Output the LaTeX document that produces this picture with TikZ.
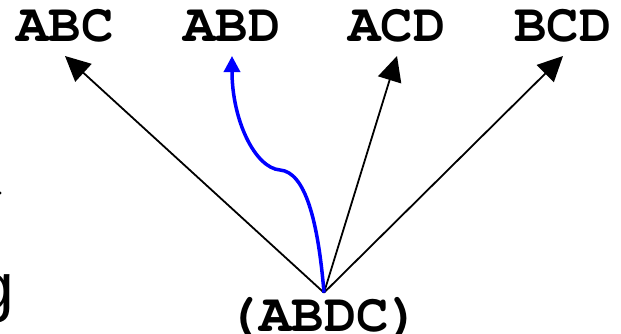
\documentclass[tikz,border=0pt]{standalone}
\usepackage{fontspec}
\newfontfamily\gfont{Liberation Sans}
\newfontfamily\cour{TeX Gyre Cursor}
\usetikzlibrary{arrows.meta}
\begin{document}
\begin{tikzpicture}[x=1pt,y=-1pt,
  lbl/.style={font=\cour\bfseries\fontsize{54}{60}\selectfont, inner sep=0pt, text depth=14pt, anchor=south},
  blk/.style={line width=1.8pt, -{Triangle[length=25pt,width=24pt]}},
  blu/.style={draw=blue, line width=3.5pt, -{Triangle[length=16pt,width=16pt]}}]
\useasboundingbox (0,0) rectangle (621,333);
\clip (0,0) rectangle (621,333);
\node[lbl] (abc) at (65,56) {ABC};
\node[lbl] (abd) at (232,56) {ABD};
\node[lbl] (acd) at (397,56) {ACD};
\node[lbl] (bcd) at (563,56) {BCD};
\node[font=\cour\bfseries\fontsize{54}{60}\selectfont, inner xsep=0pt, inner ysep=4pt, anchor=base] (abdc) at (324,331) {(ABDC)};
\node[font=\gfont\fontsize{66}{70}\selectfont, inner sep=0pt, anchor=base west] (gfrag) at (-23,309) {g};
\fill (0,193) circle (1.6pt);
\draw[blk] (abdc.north) -- (abc.south);
\draw[blk] (abdc.north) -- (acd.south);
\draw[blk] (abdc.north) -- (bcd.south);
\draw[blu] (abdc.north) .. controls (318,220) and (305,172) .. (280,170) .. controls (255,168) and (232,120) .. (abd.south);
\end{tikzpicture}
\end{document}
